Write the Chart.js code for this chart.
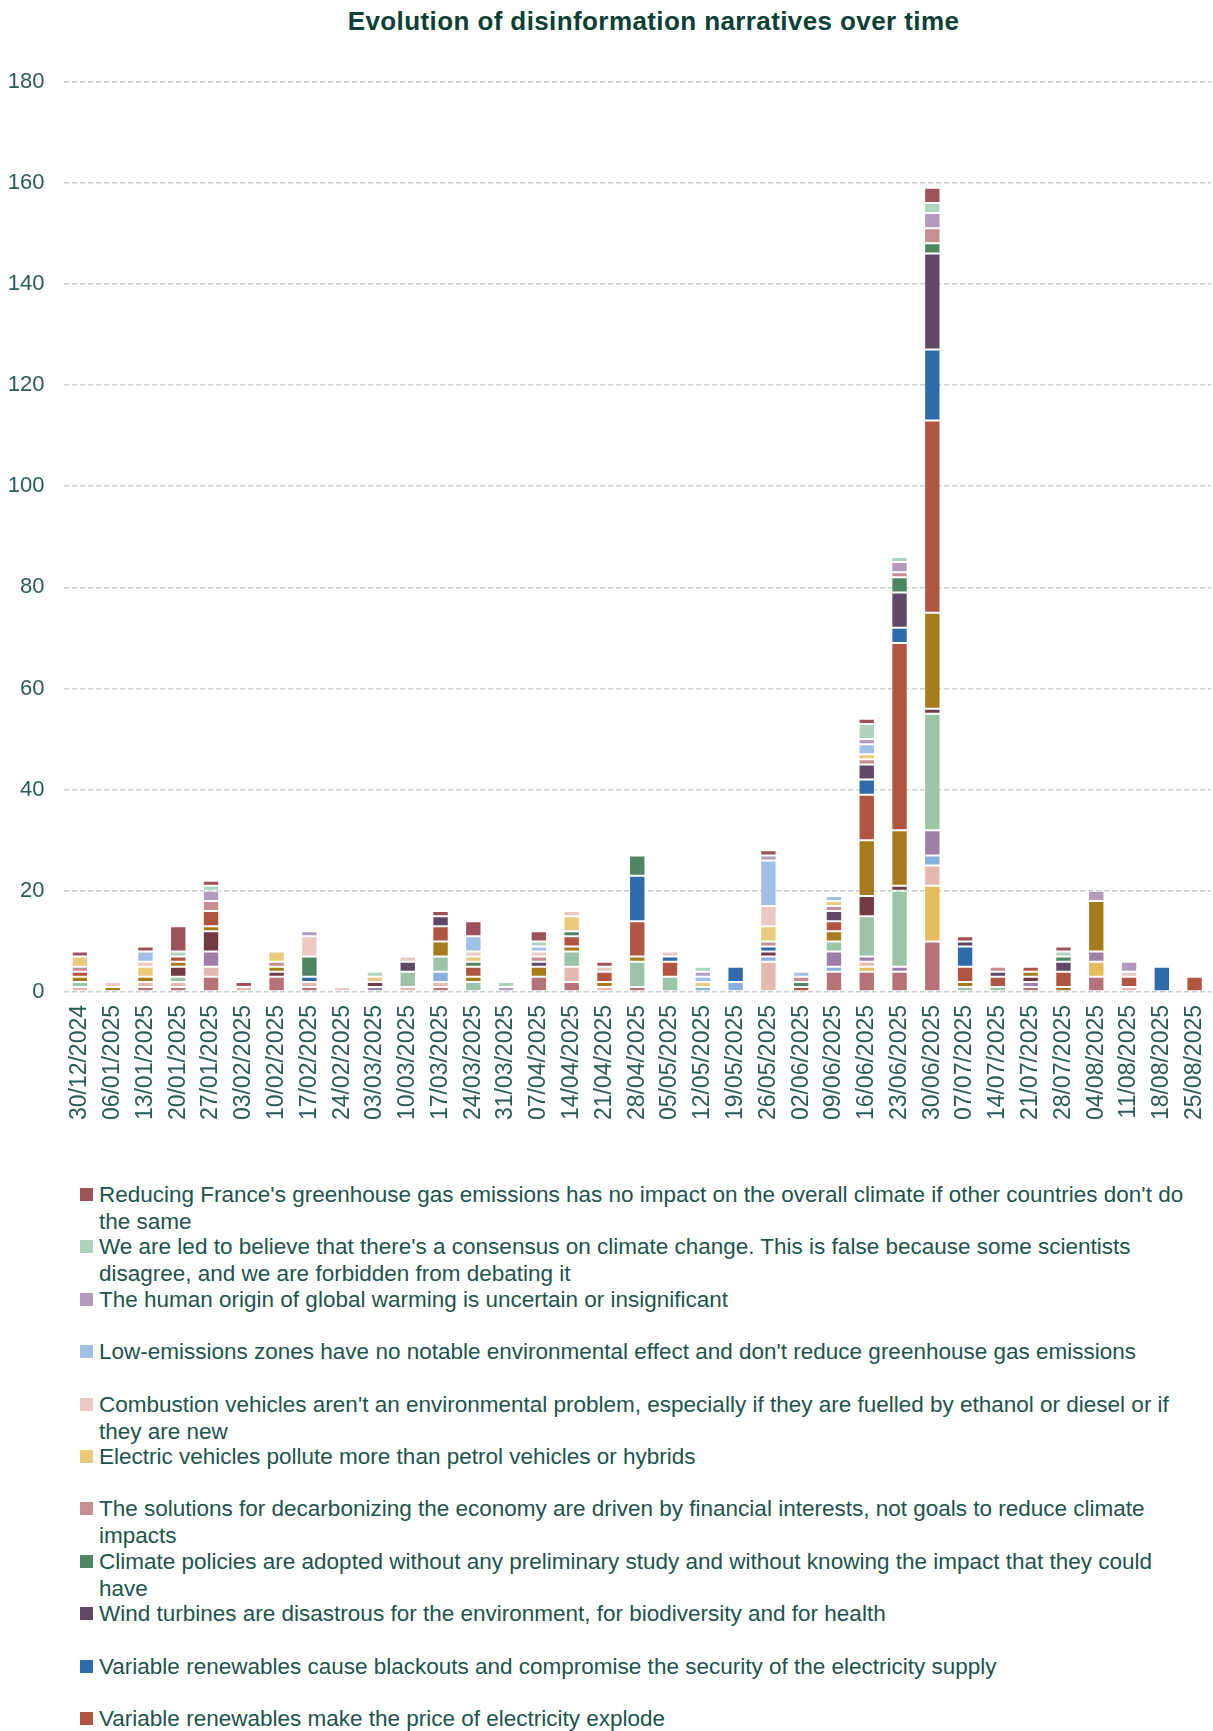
<!DOCTYPE html>
<html>
<head>
<meta charset="utf-8">
<title>Evolution of disinformation narratives over time</title>
<script src="https://cdn.jsdelivr.net/npm/chart.js@4/dist/chart.umd.min.js"></script>
<style>
  body { margin: 0; background: #fff; width: 1213px; height: 1731px; position: relative; overflow: hidden;
         font-family: 'Liberation Sans', Arial, sans-serif; }
  #title { position: absolute; top: 8px; left: 0; width: 1213px; box-sizing: border-box; padding-left: 94px;
           text-align: center; font-weight: bold; font-size: 26px; line-height: 26px; letter-spacing: 0.4px; color: #0b4036; }
  #wrap { position: absolute; top: 0; left: 0; width: 1213px; height: 1122px; }
  #legend { position: absolute; top: 1181px; left: 0; width: 1213px; }
  .item { position: relative; height: 52.4px; }
  .sw { position: absolute; left: 80px; top: 7px; width: 13px; height: 13px; }
  .tx { position: absolute; left: 99px; top: 0; font-size: 22.5px; line-height: 27px; color: #21534d; white-space: nowrap; }
</style>
</head>
<body>
<div id="title">Evolution of disinformation narratives over time</div>
<div id="wrap"><canvas id="chart" width="1213" height="1122"></canvas></div>
<div id="legend"></div>
<script>
// Weekly periods (week starting date)
const weeks = ["30/12/2024","06/01/2025","13/01/2025","20/01/2025","27/01/2025","03/02/2025","10/02/2025",
  "17/02/2025","24/02/2025","03/03/2025","10/03/2025","17/03/2025","24/03/2025","31/03/2025","07/04/2025",
  "14/04/2025","21/04/2025","28/04/2025","05/05/2025","12/05/2025","19/05/2025","26/05/2025","02/06/2025",
  "09/06/2025","16/06/2025","23/06/2025","30/06/2025","07/07/2025","14/07/2025","21/07/2025","28/07/2025",
  "04/08/2025","11/08/2025","18/08/2025","25/08/2025"];

// Y axis ticks
const yMax = 180;
const yStep = 20;

// Counts per week, one array per narrative (legend order, top of stack first)
const reducingFrance   = [1,0,1,5,1,1,0,0,0,0,0,1,3,0,2,0,1,0,0,0,0,1,0,0,1,0,3,1,0,0,1,0,0,0,0];
const consensus        = [0,0,0,1,1,0,0,0,0,1,0,0,0,1,1,0,0,0,0,1,0,0,0,0,3,1,2,0,0,0,1,0,0,0,0];
const humanOrigin      = [0,0,0,0,2,0,0,1,0,0,0,0,0,1,0,0,0,0,0,1,0,1,0,0,1,2,3,0,0,0,0,2,2,0,0];
const lowEmissionZones = [0,0,2,0,0,0,0,0,0,0,0,0,3,0,1,0,0,0,0,1,0,9,1,1,2,0,0,0,0,0,0,0,0,0,0];
const combustionCars   = [0,1,1,0,0,0,0,4,1,0,1,0,1,0,1,1,1,0,1,0,0,4,0,0,0,0,0,0,0,0,0,0,1,0,0];
const electricCars     = [2,0,2,0,0,0,2,0,0,1,0,0,1,0,0,3,0,0,0,1,0,3,0,1,1,0,0,0,0,0,0,0,0,0,0];
const financialMotives = [1,0,0,0,2,0,1,0,0,0,0,0,0,0,1,0,0,0,0,0,0,1,1,1,1,1,3,0,1,0,0,0,0,0,0];
const noImpactStudy    = [0,0,0,0,0,0,0,4,0,0,0,0,1,0,0,1,0,4,0,0,0,0,1,0,0,3,2,0,0,0,1,0,0,0,0];
const windTurbines     = [0,0,0,0,0,0,0,0,0,0,2,2,0,0,1,0,0,0,0,0,0,0,0,2,3,7,19,1,1,0,2,0,0,0,0];
const blackouts        = [0,0,0,0,0,0,0,1,0,0,0,0,0,0,0,0,0,9,1,0,3,1,0,0,3,3,14,4,0,0,0,0,0,5,0];
const electricityPrice = [1,0,0,1,3,0,0,0,0,0,0,3,2,0,0,2,2,7,3,0,0,0,1,2,9,37,38,3,2,1,3,0,2,0,3];

// Further narratives (legend entries continue below the visible page)
const series12 = [1,1,1,1,1,0,1,0,0,0,0,3,1,0,2,1,1,1,0,0,0,0,0,2,11,11,19,1,0,1,1,10,0,0,0];
const series13 = [0,0,0,2,4,0,1,0,0,1,0,0,0,0,0,0,0,0,0,0,0,1,0,0,4,1,1,0,0,1,0,0,0,0,0];
const series14 = [1,0,0,1,0,0,0,0,0,0,3,3,2,0,0,3,0,5,3,0,0,0,0,2,8,15,23,1,1,0,0,0,0,0,0];
const series15 = [0,0,0,0,3,0,0,0,0,1,0,0,0,0,0,0,0,0,0,0,0,0,0,3,1,1,5,0,0,1,0,2,0,0,0];
const series16 = [0,0,0,0,0,0,0,0,0,0,0,2,0,0,0,0,0,0,0,1,2,1,0,1,0,0,2,0,0,0,0,0,0,0,0];
const series17 = [1,0,1,1,2,1,0,1,0,0,1,1,0,0,0,3,1,0,0,0,0,6,0,0,1,0,4,0,0,0,0,0,1,0,0];
const series18 = [0,0,0,0,0,0,0,0,0,0,0,0,0,0,0,0,0,0,0,0,0,0,0,0,1,0,11,0,0,0,0,3,0,0,0];
const series19 = [0,0,1,1,3,0,3,1,0,0,0,1,0,0,3,2,0,1,0,0,0,0,0,4,4,4,10,0,0,1,0,3,0,0,0];

// Legend texts, split into lines
const narrativeLabels = [
  ["Reducing France's greenhouse gas emissions has no impact on the overall climate if other countries don't do", "the same"],
  ["We are led to believe that there's a consensus on climate change. This is false because some scientists", "disagree, and we are forbidden from debating it"],
  ["The human origin of global warming is uncertain or insignificant"],
  ["Low-emissions zones have no notable environmental effect and don't reduce greenhouse gas emissions"],
  ["Combustion vehicles aren't an environmental problem, especially if they are fuelled by ethanol or diesel or if", "they are new"],
  ["Electric vehicles pollute more than petrol vehicles or hybrids"],
  ["The solutions for decarbonizing the economy are driven by financial interests, not goals to reduce climate", "impacts"],
  ["Climate policies are adopted without any preliminary study and without knowing the impact that they could", "have"],
  ["Wind turbines are disastrous for the environment, for biodiversity and for health"],
  ["Variable renewables cause blackouts and compromise the security of the electricity supply"],
  ["Variable renewables make the price of electricity explode"]
];

const seriesColors = ["#9e525c","#b0d3bf","#b29bbd","#a2c0e6","#ebc9c2","#eaca7c","#c58e93","#4e8562",
  "#5f4967","#2f6aaa","#b05542","#a77b1b","#733a44","#9dc4a9","#9e80a6","#8ab0dd","#e4b9b1","#e6ba5d","#b57279"];

const seriesValues = [reducingFrance, consensus, humanOrigin, lowEmissionZones, combustionCars, electricCars,
  financialMotives, noImpactStudy, windTurbines, blackouts, electricityPrice,
  series12, series13, series14, series15, series16, series17, series18, series19];

// First legend entry sits on top of each stack, so datasets are added bottom-up
const datasets = seriesValues.map((vals, i) => ({
  label: narrativeLabels[i] ? narrativeLabels[i].join(' ') : 'Narrative ' + (i + 1),
  data: vals,
  backgroundColor: seriesColors[i],
  borderColor: 'rgba(255,255,255,0.45)',
  borderWidth: 1,
  borderSkipped: false
})).reverse();

Chart.defaults.font.family = "'Liberation Sans', Arial, sans-serif";

const tickColor = '#2b5b58';
new Chart(document.getElementById('chart'), {
  type: 'bar',
  data: { labels: weeks, datasets: datasets },
  options: {
    responsive: false,
    animation: false,
    devicePixelRatio: 1,
    layout: { padding: { top: 81.5, right: 2, bottom: 0, left: 0 } },
    datasets: { bar: { categoryPercentage: 0.5, barPercentage: 1 } },
    plugins: { legend: { display: false }, title: { display: false }, tooltip: { enabled: false } },
    scales: {
      x: {
        stacked: true,
        grid: { display: false, drawTicks: false },
        border: { display: false },
        ticks: { autoSkip: false, maxRotation: 90, minRotation: 90, padding: 13, color: tickColor, font: { size: 23 } },
        afterFit(scale) {
          scale.height = 130;
          scale.paddingLeft = 0;
          scale.paddingRight = 0;
        }
      },
      y: {
        stacked: true,
        min: 0,
        max: yMax,
        ticks: { stepSize: yStep, padding: 19, color: tickColor, font: { size: 22 } },
        grid: { color: '#c2cfcf', lineWidth: 1.5, drawTicks: false },
        border: { display: false, dash: [5, 3] },
        afterFit(scale) { scale.width = 63.5; }
      }
    }
  }
});

// Legend list
const legendEl = document.getElementById('legend');
narrativeLabels.forEach((lines, i) => {
  const item = document.createElement('div');
  item.className = 'item';
  const sw = document.createElement('span');
  sw.className = 'sw';
  sw.style.background = seriesColors[i];
  const tx = document.createElement('div');
  tx.className = 'tx';
  lines.forEach((line, k) => {
    if (k > 0) tx.appendChild(document.createElement('br'));
    tx.appendChild(document.createTextNode(line));
  });
  item.appendChild(sw);
  item.appendChild(tx);
  legendEl.appendChild(item);
});
</script>
</body>
</html>
